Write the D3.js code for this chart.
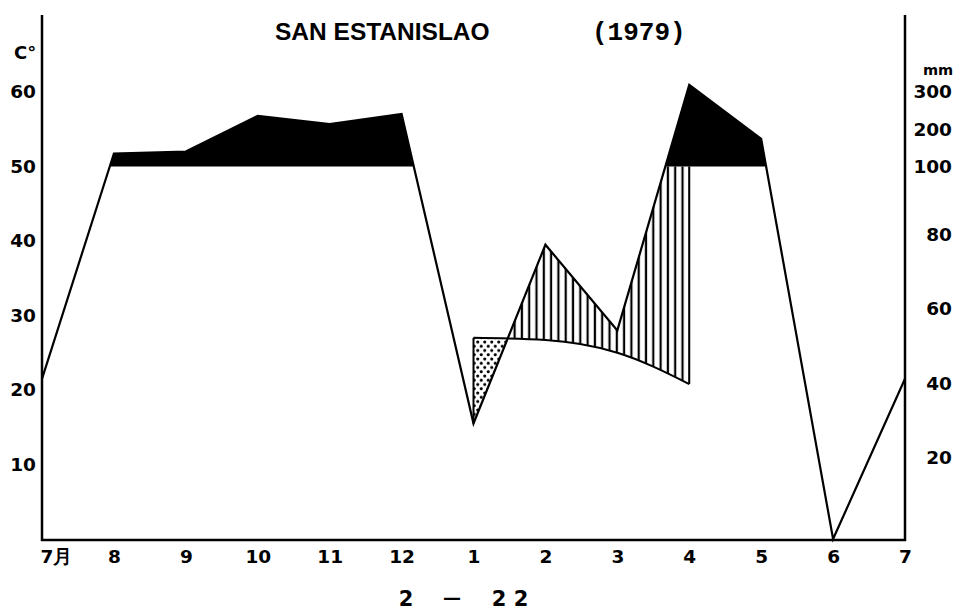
<!DOCTYPE html>
<html>
<head>
<meta charset="utf-8">
<script src="https://cdn.jsdelivr.net/npm/d3@7"></script>
<style>
body{margin:0;background:#fff}
</style>
</head>
<body>
<div id="chart"></div>
<script>
// months run Jul -> Jul, index 0..12
var months = ["7月","8","9","10","11","12","1","2","3","4","5","6","7"];
var precip = [43,135,140,236,214,241,31,79,56,319,174,0,43];   // mm
var temp = [null,null,null,null,null,null,27.0,26.7,25.0,20.8,null,null,null]; // C
var tempTicks = [10,20,30,40,50,60];
var precipTicks = [20,40,60,80,100,200,300];

var W = 957, H = 611;
var svg = d3.select("#chart").append("svg")
            .attr("width", W)
            .attr("height", H);

var x = d3.scaleLinear().domain([0,12]).range([42,905]);
var yT = d3.scaleLinear().domain([0,60]).range([539,92]);
// 10 C = 20 mm below 100 mm, compressed above
var yP = d3.scaleLinear().domain([0,100,300]).range([yT(0),yT(50),yT(60)]);

var pData = precip.map((v,i) => ({i:i, v:v}));
var tData = temp.map((v,i) => ({i:i, v:v})).filter(d => d.v != null);

var defs = svg.append("defs");

var belowP = d3.area().x(d => x(d.i)).y0(yT(0)).y1(d => yP(d.v));
var aboveP = d3.area().x(d => x(d.i)).y0(0).y1(d => yP(d.v));

defs.append("clipPath").attr("id","belowP").append("path").attr("d", belowP(pData));
defs.append("clipPath").attr("id","aboveP").append("path").attr("d", aboveP(pData));
defs.append("clipPath").attr("id","over100").append("rect")
    .attr("x",0).attr("y",0).attr("width",W).attr("height",yP(100));
defs.append("clipPath").attr("id","under100").append("rect")
    .attr("x",0).attr("y",yP(100)).attr("width",W).attr("height",H);

var hatch = defs.append("pattern").attr("id","hatch")
    .attr("patternUnits","userSpaceOnUse")
    .attr("width",7.3).attr("height",10);
hatch.append("line")
    .attr("x1",3.6).attr("x2",3.6).attr("y1",0).attr("y2",10)
    .attr("stroke","#000").attr("stroke-width",2.2);

var dots = defs.append("pattern").attr("id","dots")
    .attr("patternUnits","userSpaceOnUse")
    .attr("width",7).attr("height",8.5);
dots.append("circle").attr("cx",1.75).attr("cy",2).attr("r",1.6).attr("fill","#000");
dots.append("circle").attr("cx",5.25).attr("cy",6.25).attr("r",1.6).attr("fill","#000");

// perhumid part (> 100 mm) in black
svg.append("g").attr("clip-path","url(#over100)")
   .append("path")
   .attr("d", belowP(pData))
   .attr("fill","#000");

// humid part: above temperature, below precipitation (max 100 mm)
var tUp = d3.area().curve(d3.curveMonotoneX)
            .x(d => x(d.i)).y0(d => yT(d.v)).y1(0);
svg.append("g").attr("clip-path","url(#belowP)")
   .append("g").attr("clip-path","url(#under100)")
   .append("path")
   .attr("d", tUp(tData))
   .attr("fill","url(#hatch)");

// arid part: below temperature, above precipitation
var tDown = d3.area().curve(d3.curveMonotoneX)
              .x(d => x(d.i)).y0(d => yT(d.v)).y1(yT(0));
svg.append("g").attr("clip-path","url(#aboveP)")
   .append("path")
   .attr("d", tDown(tData))
   .attr("fill","url(#dots)");

// end edges of the temperature segment
var first = tData[0], last = tData[tData.length-1];
svg.append("line")
   .attr("x1", x(first.i)).attr("x2", x(first.i))
   .attr("y1", yT(first.v)).attr("y2", yP(precip[first.i]))
   .attr("stroke","#000").attr("stroke-width",2);
svg.append("line")
   .attr("x1", x(last.i)).attr("x2", x(last.i))
   .attr("y1", yT(last.v)).attr("y2", yP(Math.min(100, precip[last.i])))
   .attr("stroke","#000").attr("stroke-width",2);

// lines
svg.append("path")
   .attr("d", d3.line().curve(d3.curveMonotoneX).x(d => x(d.i)).y(d => yT(d.v))(tData))
   .attr("fill","none").attr("stroke","#000").attr("stroke-width",2);

svg.append("path")
   .attr("d", d3.line().x(d => x(d.i)).y(d => yP(d.v))(pData))
   .attr("fill","none").attr("stroke","#000").attr("stroke-width",2.2)
   .attr("stroke-linejoin","miter");

// frame
svg.append("line").attr("x1",42).attr("x2",42).attr("y1",15).attr("y2",541)
   .attr("stroke","#000").attr("stroke-width",2.5);
svg.append("line").attr("x1",905).attr("x2",905).attr("y1",15).attr("y2",541)
   .attr("stroke","#000").attr("stroke-width",2.5);
svg.append("line").attr("x1",41).attr("x2",906).attr("y1",540).attr("y2",540)
   .attr("stroke","#000").attr("stroke-width",2.5);

var tickFont = "'DejaVu Sans', sans-serif";

var gl = svg.append("g").attr("transform","translate(42,0)")
   .call(d3.axisLeft(yT).tickValues(tempTicks).tickSize(0).tickPadding(6));
var gr = svg.append("g").attr("transform","translate(905,0)")
   .call(d3.axisRight(yP).tickValues(precipTicks).tickSize(0).tickPadding(47));
gr.selectAll("text").attr("text-anchor","end")
  .attr("dy", d => d <= 80 ? "-0.05em" : "0.32em");
var gb = svg.append("g").attr("transform","translate(0,540)")
   .call(d3.axisBottom(x).tickValues(d3.range(13)).tickFormat(i => months[i])
           .tickSize(0).tickPadding(10));
gb.selectAll("text").filter(i => i === 0)
  .attr("text-anchor","start").attr("x",-2);

[gl, gr, gb].forEach(g => {
  g.select(".domain").remove();
  g.selectAll("text")
   .attr("font-family", tickFont)
   .attr("font-weight","bold")
   .attr("font-size", 18.5)
   .attr("fill","#000");
});

// unit labels
svg.append("text").attr("x",14).attr("y",59)
   .attr("font-family",tickFont).attr("font-weight","bold").attr("font-size",18)
   .text("C°");
svg.append("text").attr("x",938).attr("y",75).attr("text-anchor","middle")
   .attr("font-family",tickFont).attr("font-weight","bold").attr("font-size",14.5)
   .text("mm");

// title
svg.append("text").attr("x",275).attr("y",40)
   .attr("font-family","'Liberation Sans', sans-serif").attr("font-weight","bold")
   .attr("font-size",24.5)
   .text("SAN ESTANISLAO");
svg.append("text").attr("x",592).attr("y",40)
   .attr("font-family","'Liberation Mono', monospace").attr("font-weight","bold")
   .attr("font-size",26)
   .text("(1979)");

// page number
var cap = svg.append("g")
   .attr("font-family","'DejaVu Sans', sans-serif").attr("font-weight","bold")
   .attr("font-size",21).attr("text-anchor","middle");
cap.append("text").attr("x",406).attr("y",606).text("2");
cap.append("text").attr("x",452).attr("y",604).attr("font-size",18).text("—");
cap.append("text").attr("x",510).attr("y",606).text("2 2");
</script>
</body>
</html>
